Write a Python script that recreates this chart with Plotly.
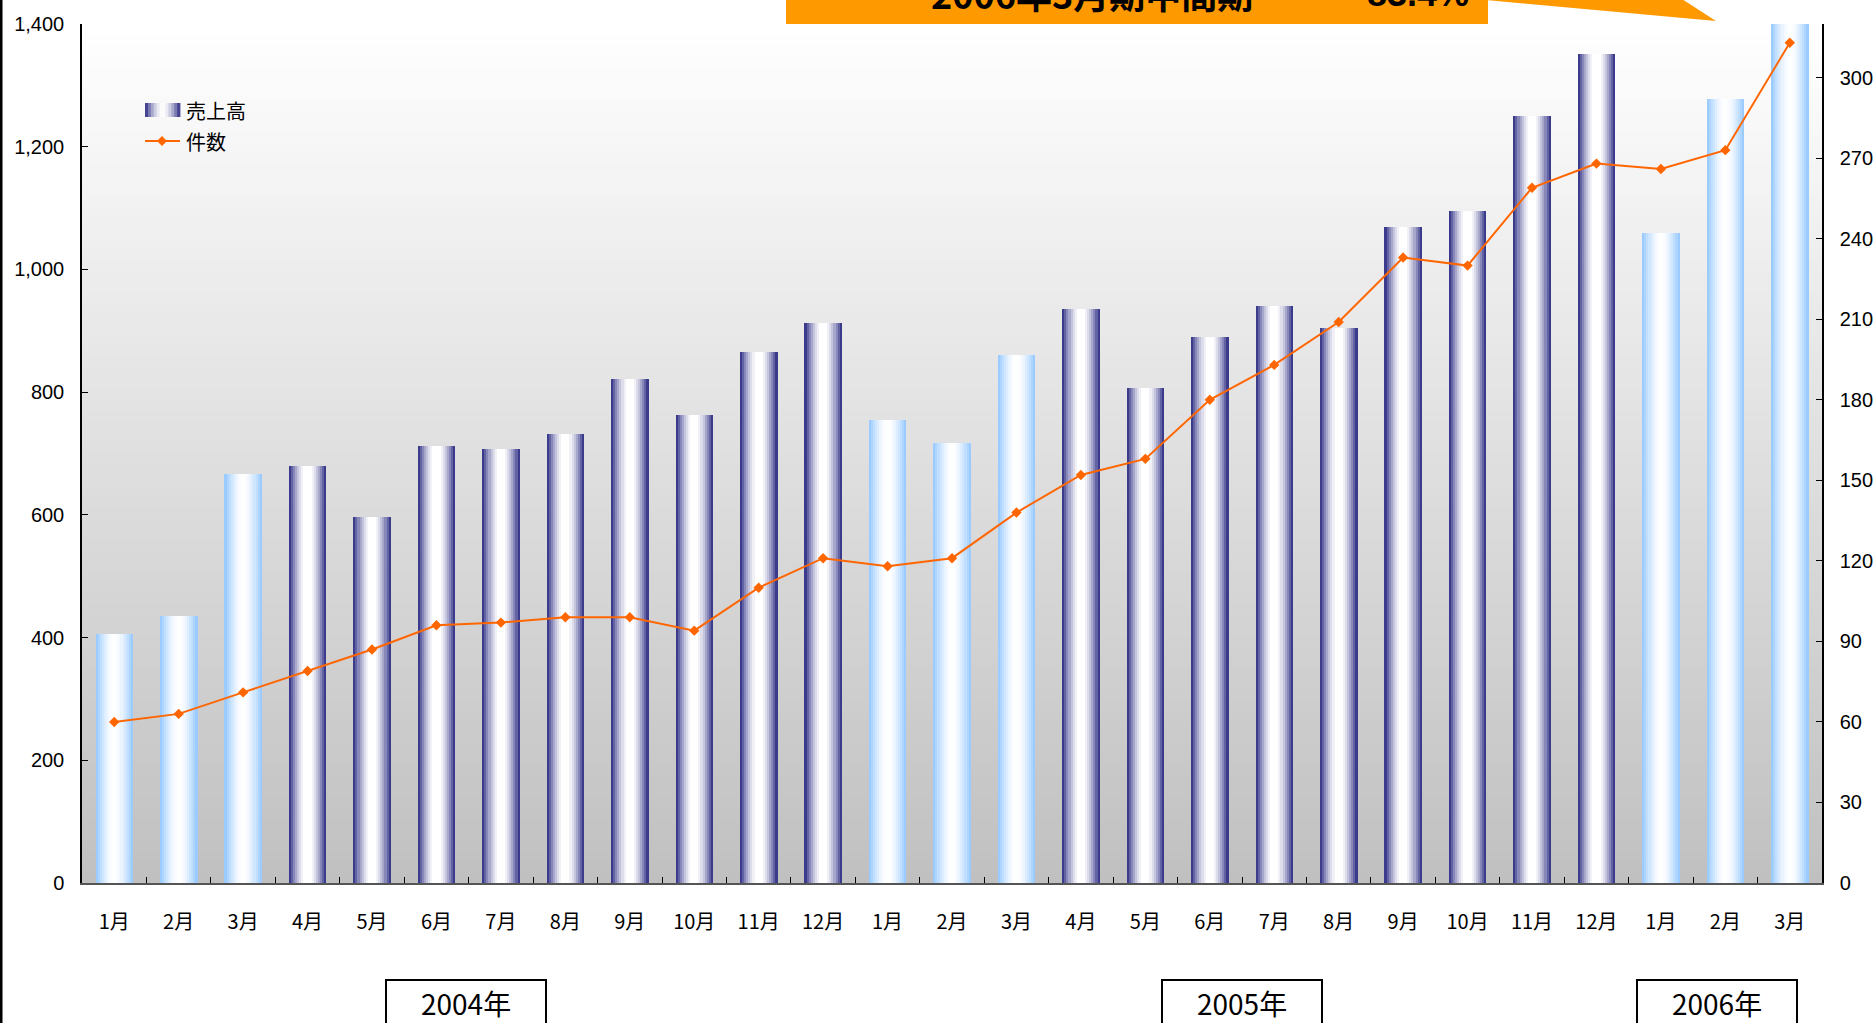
import plotly.graph_objects as go

# ---------------- data ----------------
month_labels = ["1月", "2月", "3月", "4月", "5月", "6月", "7月", "8月", "9月", "10月", "11月", "12月",
                "1月", "2月", "3月", "4月", "5月", "6月", "7月", "8月", "9月", "10月", "11月", "12月",
                "1月", "2月", "3月"]
period_keys = [f"{y}-{m:02d}" for y, ms in ((2004, range(1, 13)), (2005, range(1, 13)), (2006, range(1, 4))) for m in ms]
sales = [406, 435, 667, 680, 597, 713, 708, 731, 822, 762, 865, 912,
         754, 717, 861, 935, 807, 890, 941, 904, 1069, 1096, 1250, 1351,
         1059, 1277, 1408]
counts = [60, 63, 71, 79, 87, 96, 97, 99, 99, 94, 110, 121,
          118, 121, 138, 152, 158, 180, 193, 209, 233, 230, 259, 268,
          266, 273, 313]
year_labels = ["2004年", "2005年", "2006年"]
left_ticks = [0, 200, 400, 600, 800, 1000, 1200, 1400]
right_ticks = [0, 30, 60, 90, 120, 150, 180, 210, 240, 270, 300]
callout_text = ["2006年3月期中間期", "83.4%"]

# ---------------- layout geometry (pixels) ----------------
W, H = 1874, 1023
PL, PR, PT, PB = 82, 1822, 24, 883


def px(x):
    return (x - PL) / (PR - PL)


def py(y):
    return (PB - y) / (PB - PT)


def mix(c, t):
    # t=0 -> c, t=1 -> white
    r, g, b = c
    return "rgb(%d,%d,%d)" % (round(r + (255 - r) * t), round(g + (255 - g) * t), round(b + (255 - b) * t))


LIGHT = (145, 198, 255)
NAVY = (38, 38, 128)
N = 18
BW = 0.58


def profile(t):
    d = abs(2 * t - 1)
    return 1 - d ** 1.7


fig = go.Figure()

# gradient bars made of narrow slices
for k in range(N):
    t = (k + 0.5) / N
    f = profile(t)
    cols = []
    for key in period_keys:
        m = int(key[-2:])
        base = LIGHT if m <= 3 else NAVY
        ff = f if m <= 3 else min(1.0, f * 1.05)
        cols.append(mix(base, ff))
    fig.add_trace(go.Bar(
        x=period_keys, y=sales, yaxis="y",
        width=BW / N * 1.08, offset=-BW / 2 + k * BW / N,
        marker=dict(color=cols, line=dict(width=0)),
        showlegend=False, hoverinfo="skip" if k else "x+y", name="売上高",
    ))

fig.add_trace(go.Scatter(
    x=period_keys, y=counts, yaxis="y2", mode="lines+markers", name="件数",
    line=dict(color="#ff6600", width=2),
    marker=dict(symbol="diamond", size=8, color="#ff6600"),
    showlegend=False,
))

shapes = []
# plot background vertical gradient
NB = 80
for i in range(NB):
    y0 = i / NB
    y1 = (i + 1) / NB
    tmid = (i + 0.5) / NB  # 0 bottom, 1 top
    g = round(192 + (255 - 192) * tmid)
    shapes.append(dict(type="rect", xref="paper", yref="paper", x0=0, x1=1, y0=y0, y1=y1 + 0.002,
                       fillcolor="rgb(%d,%d,%d)" % (g, g, g), line=dict(width=0), layer="below"))

# left border of the picture
shapes.append(dict(type="line", xref="paper", yref="paper", x0=px(1), x1=px(1), y0=py(-5), y1=py(1030),
                   line=dict(color="black", width=3)))

# callout box + pointer
OR = "#ff9900"
shapes.append(dict(type="rect", xref="paper", yref="paper", x0=px(786), x1=px(1488), y0=py(24), y1=py(-40),
                   fillcolor=OR, line=dict(width=0)))
shapes.append(dict(type="path", xref="paper", yref="paper",
                   path="M %f,%f L %f,%f L %f,%f L %f,%f Z" % (px(1486), py(-30), px(1486), py(0), px(1716), py(21), px(1637), py(-30)),
                   fillcolor=OR, line=dict(width=0)))

# year boxes
year_boxes = [(386, 546), (1162, 1322), (1637, 1797)]
annotations = []
for (x0, x1), lab in zip(year_boxes, year_labels):
    shapes.append(dict(type="rect", xref="paper", yref="paper", x0=px(x0), x1=px(x1), y0=py(1040), y1=py(980),
                       fillcolor="white", line=dict(color="black", width=2)))
    annotations.append(dict(xref="paper", yref="paper", x=px((x0 + x1) / 2), y=py(1003), text=lab,
                            showarrow=False, xanchor="center", yanchor="middle",
                            font=dict(size=28, color="black", family="Liberation Sans Narrow, Arial Narrow, Noto Sans CJK JP")))

# callout texts
annotations.append(dict(xref="paper", yref="paper", x=px(1092), y=py(-7), text="<b>%s</b>" % callout_text[0],
                        showarrow=False, xanchor="center", yanchor="middle",
                        font=dict(size=36, color="black", family="Noto Sans CJK JP")))
annotations.append(dict(xref="paper", yref="paper", x=px(1418), y=py(-7), text="<b>%s</b>" % callout_text[1],
                        showarrow=False, xanchor="center", yanchor="middle",
                        font=dict(size=36, color="black", family="Liberation Sans, Arial")))

# manual legend
LX0, LX1 = 145, 180
NS = 12
for k in range(NS):
    t = (k + 0.5) / NS
    shapes.append(dict(type="rect", xref="paper", yref="paper",
                       x0=px(LX0 + k * (LX1 - LX0) / NS), x1=px(LX0 + (k + 1) * (LX1 - LX0) / NS + 0.4),
                       y0=py(117), y1=py(103), fillcolor=mix(NAVY, profile(t)), line=dict(width=0)))
shapes.append(dict(type="line", xref="paper", yref="paper", x0=px(LX0), x1=px(LX1), y0=py(141), y1=py(141),
                   line=dict(color="#ff6600", width=2)))
shapes.append(dict(type="path", xref="paper", yref="paper",
                   path="M %f,%f L %f,%f L %f,%f L %f,%f Z" % (px(162), py(136), px(167), py(141), px(162), py(146), px(157), py(141)),
                   fillcolor="#ff6600", line=dict(width=0)))
annotations.append(dict(xref="paper", yref="paper", x=px(184), y=py(110), text="売上高", showarrow=False,
                        xanchor="left", yanchor="middle", font=dict(size=20, color="black", family="Noto Sans CJK JP")))
annotations.append(dict(xref="paper", yref="paper", x=px(184), y=py(141), text="件数", showarrow=False,
                        xanchor="left", yanchor="middle", font=dict(size=20, color="black", family="Noto Sans CJK JP")))

fig.update_layout(
    width=W, height=H,
    margin=dict(l=PL, r=W - PR, t=PT, b=H - PB, pad=0, autoexpand=False),
    paper_bgcolor="white", plot_bgcolor="rgba(0,0,0,0)",
    barmode="overlay", bargap=0,
    showlegend=False,
    shapes=shapes, annotations=annotations,
    xaxis=dict(type="category", categoryorder="array", categoryarray=period_keys,
               range=[-0.5, len(period_keys) - 0.5], automargin=False,
               tickmode="array", tickvals=period_keys, ticktext=month_labels,
               tickson="boundaries", ticks="inside", ticklen=6, tickcolor="black",
               showline=True, linecolor="#555555", linewidth=2, showgrid=False, zeroline=False,
               tickfont=dict(size=20, color="black", family="Noto Sans CJK JP"),
               ticklabelstandoff=20),
    yaxis=dict(range=[0, 1400], tickmode="array", tickvals=left_ticks, automargin=False,
               ticktext=[f"{v:,}" for v in left_ticks],
               ticks="inside", ticklen=6, tickcolor="black",
               showline=True, linecolor="black", linewidth=1.5, showgrid=False, zeroline=False,
               tickfont=dict(size=20, color="black", family="Liberation Sans, Arial"),
               ticklabelstandoff=12),
    yaxis2=dict(range=[0, 320], overlaying="y", side="right", tickmode="array", tickvals=right_ticks,
                automargin=False,
                ticks="inside", ticklen=6, tickcolor="black",
                showline=True, linecolor="black", linewidth=1.5, showgrid=False, zeroline=False,
                tickfont=dict(size=20, color="black", family="Liberation Sans, Arial"),
                ticklabelstandoff=12),
)

fig.write_html("out.html", config={"displayModeBar": False},
               post_script="document.body.style.margin='0';document.body.style.overflow='hidden';")
